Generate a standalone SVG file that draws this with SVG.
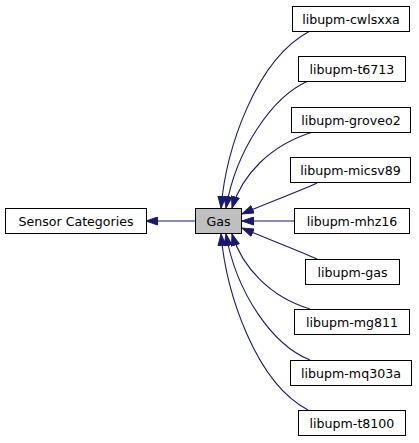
<svg xmlns="http://www.w3.org/2000/svg" width="419" height="443" viewBox="0 0 419 443">
<style>
.n rect{fill:#fff;stroke:#000;stroke-width:1}
#gas rect{fill:#bfbfbf}
.n text{font-family:"DejaVu Sans",sans-serif;font-size:12.6px;text-anchor:middle;fill:#000}
.e path{fill:none;stroke:#191970;stroke-width:1.1;marker-end:url(#ah)}
</style>
<defs>
<marker id="ah" viewBox="0 0 12 9" refX="12" refY="4.5" markerWidth="12" markerHeight="9" markerUnits="userSpaceOnUse" orient="auto">
<path d="M0.5,0.5 L12,4.5 L0.5,8.5 z" fill="#191970" stroke="#191970" stroke-width="1"/>
</marker>
</defs>
<g id="edges" class="e">
<path d="M195,221 L146,221"/>
<path d="M310,31 C255,60 226,150 221,208"/>
<path d="M308,81 C272,97 236,150 226,208"/>
<path d="M313,132 C270,145 242,175 232,208"/>
<path d="M317,183 C295,193 265,204 242,214"/>
<path d="M294,221 L242,221"/>
<path d="M317,259 C295,249 265,238 242,228"/>
<path d="M310,309 C270,297 242,267 232,234"/>
<path d="M310,360 C272,345 236,292 226,234"/>
<path d="M308,410 C255,382 226,292 221,234"/>
</g>
<g id="sensor" class="n"><rect x="5.5" y="208.5" width="141" height="25"/><text x="76" y="225.5">Sensor Categories</text></g>
<g id="gas" class="n"><rect x="195.5" y="208.5" width="46" height="25"/><text x="218.5" y="225.5">Gas</text></g>
<g id="cwlsxxa" class="n"><rect x="292.5" y="6.5" width="117" height="25"/><text x="351" y="23.5">libupm-cwlsxxa</text></g>
<g id="t6713" class="n"><rect x="298.5" y="56.5" width="107" height="25"/><text x="352" y="73.5">libupm-t6713</text></g>
<g id="groveo2" class="n"><rect x="291.5" y="107.5" width="119" height="25"/><text x="351" y="124.5">libupm-groveo2</text></g>
<g id="micsv89" class="n"><rect x="290.5" y="157.5" width="120" height="25"/><text x="350.5" y="174.5">libupm-micsv89</text></g>
<g id="mhz16" class="n"><rect x="294.5" y="208.5" width="115" height="25"/><text x="352" y="225.5">libupm-mhz16</text></g>
<g id="libgas" class="n"><rect x="305.5" y="259.5" width="94" height="25"/><text x="352.5" y="276.5">libupm-gas</text></g>
<g id="mg811" class="n"><rect x="294.5" y="309.5" width="115" height="25"/><text x="352" y="326.5">libupm-mg811</text></g>
<g id="mq303a" class="n"><rect x="290.5" y="360.5" width="121" height="25"/><text x="351" y="377.5">libupm-mq303a</text></g>
<g id="t8100" class="n"><rect x="298.5" y="410.5" width="107" height="25"/><text x="352" y="427.5">libupm-t8100</text></g>
</svg>
